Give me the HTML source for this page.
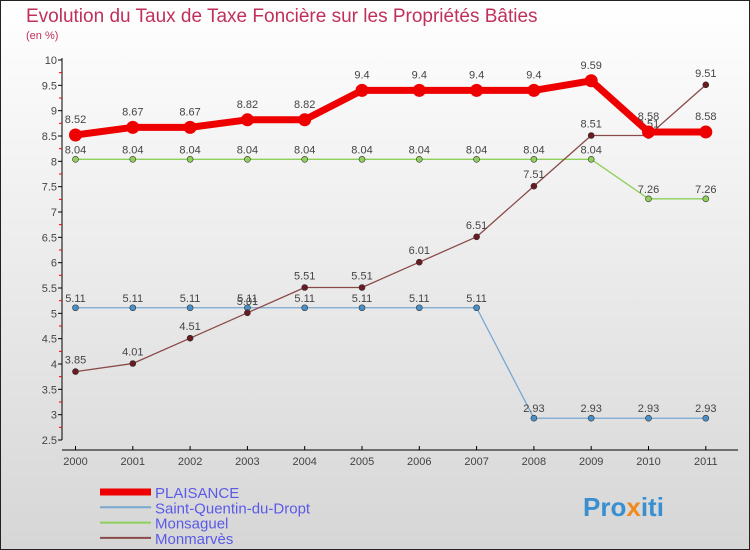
<!DOCTYPE html>
<html><head><meta charset="utf-8"><style>
body{margin:0;width:750px;height:550px;overflow:hidden;font-family:"Liberation Sans",sans-serif}
svg{display:block}
</style></head><body>
<svg id="c" width="750" height="550" xmlns="http://www.w3.org/2000/svg">
<defs><linearGradient id="bg" x1="0" y1="0" x2="0" y2="1"><stop offset="0" stop-color="#ffffff"/><stop offset="1" stop-color="#d6d6d6"/></linearGradient></defs>
<rect x="0.5" y="0.5" width="749" height="549" fill="url(#bg)" stroke="#222"/>
<text x="26" y="22" font-size="19" fill="#c0305a">Evolution du Taux de Taxe Foncière sur les Propriétés Bâties</text>
<text x="26" y="39" font-size="11" fill="#c0305a">(en %)</text>
<g id="axes"></g><g id="series"></g><g id="legend"></g>
<text x="583" y="516" font-size="26" font-weight="bold" fill="#3a8fd0">Pro<tspan fill="#f08a1c">x</tspan>iti</text>
</svg>
<script>
const years=[2000,2001,2002,2003,2004,2005,2006,2007,2008,2009,2010,2011];
const plaisance=[8.52,8.67,8.67,8.82,8.82,9.4,9.4,9.4,9.4,9.59,8.58,8.58];
const stQuentin=[5.11,5.11,5.11,5.11,5.11,5.11,5.11,5.11,2.93,2.93,2.93,2.93];
const monsaguel=[8.04,8.04,8.04,8.04,8.04,8.04,8.04,8.04,8.04,8.04,7.26,7.26];
const monmarves=[3.85,4.01,4.51,5.01,5.51,5.51,6.01,6.51,7.51,8.51,8.51,9.51];
const yTicks=[2.5,3,3.5,4,4.5,5,5.5,6,6.5,7,7.5,8,8.5,9,9.5,10];
const seriesNames=["PLAISANCE","Saint-Quentin-du-Dropt","Monsaguel","Monmarvès"];
const NS="http://www.w3.org/2000/svg";
const X=i=>75.5+i*57.3;
const Y=v=>440-(v-2.5)*(380/7.5);
function mk(p,t,a){const e=document.createElementNS(NS,t);for(const k in a)e.setAttribute(k,a[k]);p.appendChild(e);return e;}
const ax=document.getElementById('axes');
let l=mk(ax,'line',{x1:62,y1:58,x2:62,y2:440,stroke:'#000'});


l=mk(ax,'line',{x1:62,y1:450,x2:738,y2:450,stroke:'#000'});


yTicks.forEach((v,i)=>{
 mk(ax,'line',{x1:58,x2:62,y1:Y(v),y2:Y(v),stroke:'#000'});
 if(i<yTicks.length-1)mk(ax,'line',{x1:59,x2:62,y1:Y(v+0.25),y2:Y(v+0.25),stroke:'#e00'});
 const t=mk(ax,'text',{x:57,y:Y(v)+4,'font-size':11,fill:'#444','text-anchor':'end'});t.textContent=v;
 
 
});
years.forEach((y,i)=>{
 mk(ax,'line',{x1:X(i),x2:X(i),y1:446,y2:450,stroke:'#000'});
 const t=mk(ax,'text',{x:X(i),y:465,'font-size':11,fill:'#444','text-anchor':'middle'});t.textContent=y;
 
 
});
const sg=document.getElementById('series');
function draw(vals,color,w,r,dot,name,labOff){
 const g=mk(sg,'g',{});
 
 
 mk(g,'polyline',{points:vals.map((v,i)=>X(i)+','+Y(v)).join(' '),fill:'none',stroke:color,'stroke-width':w,'stroke-linejoin':'round'});
 vals.forEach((v,i)=>{
  const c=mk(g,'circle',{cx:X(i),cy:Y(v),r:r,fill:dot,stroke:'#333','stroke-width':w>3?0:0.6});
  
  
  const t=mk(g,'text',{x:X(i),y:Y(v)-labOff,'font-size':11,fill:'#444','text-anchor':'middle'});t.textContent=v;
  
  
 });
}
draw(monsaguel,'#8ed05a',1.3,3,'#8ed05a','series-monsaguel',6);
draw(stQuentin,'#78a8d0',1.3,3,'#4a90c8','series-saint-quentin',6);
draw(monmarves,'#8a4a4a',1.3,3,'#6a1a20','series-monmarves',8);
draw(plaisance,'#ee0000',7,6.5,'#ee0000','series-plaisance',12);
const lg=document.getElementById('legend');
const cols=['#ee0000','#78a8d0','#8ed05a','#8a4a4a'],ws=[7,2,2,2];
seriesNames.forEach((n,i)=>{
 const y=492+i*15.3;
 const g=mk(lg,'g',{});
 
 
 mk(g,'line',{x1:100,x2:151,y1:y,y2:y,stroke:cols[i],'stroke-width':ws[i]});
 const t=mk(g,'text',{x:155,y:y+6,'font-size':15,fill:'#5a5ae8'});t.textContent=n;
});
</script>
</body></html>
